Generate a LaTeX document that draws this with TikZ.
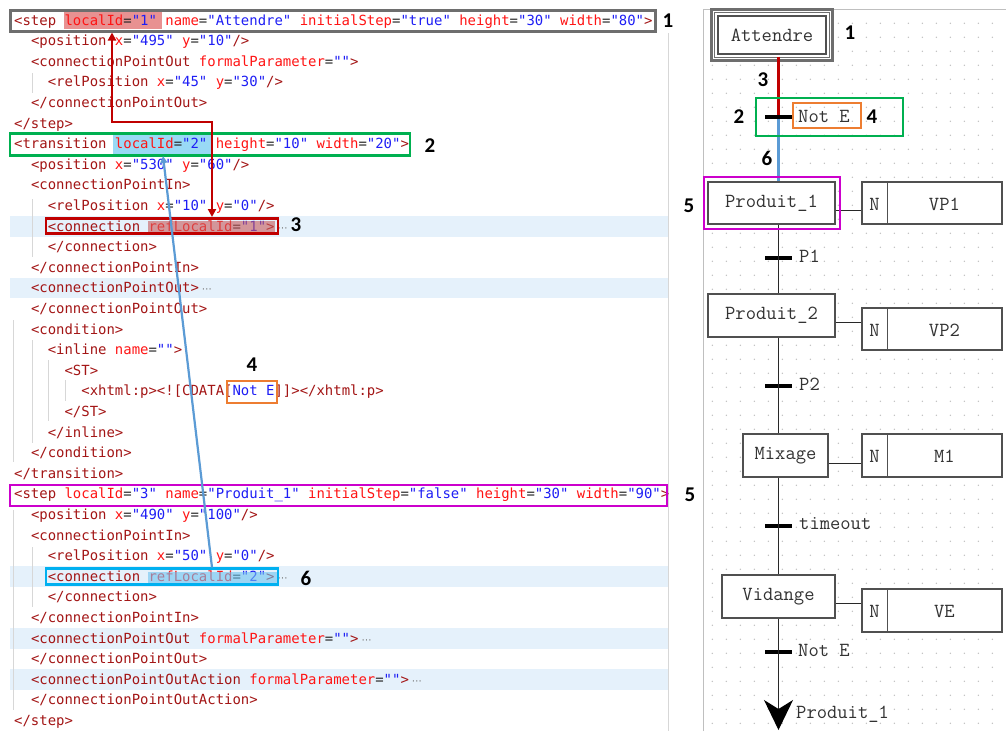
\documentclass[tikz,border=0pt]{standalone}
\usepackage{fontspec}
\setmainfont{Carlito}
\newfontfamily\codefont{DejaVu Sans Mono}
\newfontfamily\dotfont{DejaVu Sans}
\usetikzlibrary{arrows.meta,calc}
\definecolor{tagc}{RGB}{163,21,21}
\definecolor{attc}{RGB}{255,20,20}
\definecolor{valc}{RGB}{30,30,245}
\definecolor{rowc}{RGB}{229,241,251}
\definecolor{guidec}{RGB}{215,215,215}
\definecolor{grayb}{RGB}{110,110,110}
\definecolor{greenb}{RGB}{0,176,80}
\definecolor{redb}{RGB}{192,0,0}
\definecolor{orangeb}{RGB}{237,125,49}
\definecolor{magb}{RGB}{204,0,204}
\definecolor{cyanb}{RGB}{0,176,240}
\definecolor{bluel}{RGB}{91,155,213}
\definecolor{gridc}{RGB}{190,190,190}
\definecolor{sfcline}{RGB}{40,40,40}
\definecolor{sfctxt}{RGB}{50,50,50}
\definecolor{sfcbox}{RGB}{80,80,80}
\newcommand\xTg[1]{\textcolor{tagc}{#1}}
\newcommand\xAt[1]{\textcolor{attc}{#1}}
\newcommand\xVl[1]{\textcolor{valc}{#1}}
\newcommand\xEq{\textcolor{black!85}{=}}
\newcommand\xDots{\hspace{3pt}{\dotfont\fontsize{10}{10}\selectfont\textcolor{black!55}{⋯}}}
\newcommand\sfcfnt{\ttfamily\fontsize{20}{20}\selectfont}
\tikzset{
  codeline/.style={anchor=base west, inner sep=0pt, font=\codefont\fontsize{13.95}{16}\selectfont},
  guide/.style={draw=guidec, line width=0.8pt},
  markbox/.style={draw, line width=2.6pt, inner sep=0pt, fill=none},
  numlab/.style={font=\bfseries\fontsize{21}{22}\selectfont, inner sep=0pt, text=black},
  stepbox/.style={draw=sfcbox, fill=white, line width=1.2pt, inner sep=0pt, text=sfctxt, font=\sfcfnt},
  actbox/.style={draw=sfcbox, fill=white, line width=1.2pt, inner sep=0pt, minimum width=140pt},
  sfctext/.style={inner sep=0pt, text=sfctxt, font=\sfcfnt},
  translab/.style={anchor=west, inner sep=0pt, text=sfctxt, font=\sfcfnt},
  transbar/.style={fill=black, draw=none, minimum width=27pt, minimum height=4pt, inner sep=0pt},
  sfcwire/.style={draw=sfcline, line width=1.2pt},
}
\begin{document}
\begin{tikzpicture}[x=1pt,y=-1pt]
\useasboundingbox (0,0) rectangle (1006,731);
\fill[white] (0,0) rectangle (1006,731);

% ---------- code panel ----------
\foreach \b in {231,292.8,581.2,643,684.2}
  \fill[rowc] (10,\b-15) rectangle (668,\b+5.6);
\draw[guidec, line width=1pt] (668,33) -- (668,731);
\draw[guide] (32,73) -- (32,93);
\draw[guide] (32,199) -- (32,257);
\draw[guide] (13,320) -- (13,462);
\draw[guide] (32,340) -- (32,443);
\draw[guide] (48,360) -- (48,421);
\draw[guide] (65,380) -- (65,401);
\draw[guide] (13,510) -- (13,710);
\draw[guide] (32,547) -- (32,607);

\fill[fill={rgb,255:red,232;green,145;blue,145}] (64,12) rectangle (162,29);
\fill[fill={rgb,255:red,153;green,217;blue,245}] (113,135) rectangle (212,154);

\node[codeline] (l1)  at (14,25)     {\xTg{<step} \xAt{localId}\xEq\xVl{"1"} \xAt{name}\xEq\xVl{"Attendre"} \xAt{initialStep}\xEq\xVl{"true"} \xAt{height}\xEq\xVl{"30"} \xAt{width}\xEq\xVl{"80"}\xTg{>}};
\node[codeline] (l2)  at (30.8,45.6) {\xTg{<position} \xAt{x}\xEq\xVl{"495"} \xAt{y}\xEq\xVl{"10"}\xTg{/>}};
\node[codeline] (l3)  at (30.8,66.2) {\xTg{<connectionPointOut} \xAt{formalParameter}\xEq\xVl{""}\xTg{>}};
\node[codeline] (l4)  at (47.6,86.8) {\xTg{<relPosition} \xAt{x}\xEq\xVl{"45"} \xAt{y}\xEq\xVl{"30"}\xTg{/>}};
\node[codeline] (l5)  at (30.8,107.4) {\xTg{</connectionPointOut>}};
\node[codeline] (l6)  at (14,128)    {\xTg{</step>}};
\node[codeline] (l7)  at (14,148.6)  {\xTg{<transition} \xAt{localId}\xEq\xVl{"2"} \xAt{height}\xEq\xVl{"10"} \xAt{width}\xEq\xVl{"20"}\xTg{>}};
\node[codeline] (l8)  at (30.8,169.2) {\xTg{<position} \xAt{x}\xEq\xVl{"530"} \xAt{y}\xEq\xVl{"60"}\xTg{/>}};
\node[codeline] (l9)  at (30.8,189.8) {\xTg{<connectionPointIn>}};
\node[codeline] (l10) at (47.6,210.4) {\xTg{<relPosition} \xAt{x}\xEq\xVl{"10"} \xAt{y}\xEq\xVl{"0"}\xTg{/>}};
\node[codeline] (l11) at (47.6,231)   {\xTg{<connection} \xAt{refLocalId}\xEq\xVl{"1"}\xTg{>}\xDots};
\node[codeline] (l12) at (47.6,251.6) {\xTg{</connection>}};
\node[codeline] (l13) at (30.8,272.2) {\xTg{</connectionPointIn>}};
\node[codeline] (l14) at (30.8,292.8) {\xTg{<connectionPointOut>}\xDots};
\node[codeline] (l15) at (30.8,313.4) {\xTg{</connectionPointOut>}};
\node[codeline] (l16) at (30.8,334)   {\xTg{<condition>}};
\node[codeline] (l17) at (47.6,354.6) {\xTg{<inline} \xAt{name}\xEq\xVl{""}\xTg{>}};
\node[codeline] (l18) at (64.4,375.2) {\xTg{<ST>}};
\node[codeline] (l19) at (81.2,395.8) {\xTg{<xhtml:p><![CDATA[}\xVl{Not E}\xTg{]]></xhtml:p>}};
\node[codeline] (l20) at (64.4,416.4) {\xTg{</ST>}};
\node[codeline] (l21) at (47.6,437)   {\xTg{</inline>}};
\node[codeline] (l22) at (30.8,457.6) {\xTg{</condition>}};
\node[codeline] (l23) at (14,478.2)   {\xTg{</transition>}};
\node[codeline] (l24) at (14,498.8)   {\xTg{<step} \xAt{localId}\xEq\xVl{"3"} \xAt{name}\xEq\xVl{"Produit\_1"} \xAt{initialStep}\xEq\xVl{"false"} \xAt{height}\xEq\xVl{"30"} \xAt{width}\xEq\xVl{"90"}\xTg{>}};
\node[codeline] (l25) at (30.8,519.4) {\xTg{<position} \xAt{x}\xEq\xVl{"490"} \xAt{y}\xEq\xVl{"100"}\xTg{/>}};
\node[codeline] (l26) at (30.8,540)   {\xTg{<connectionPointIn>}};
\node[codeline] (l27) at (47.6,560.6) {\xTg{<relPosition} \xAt{x}\xEq\xVl{"50"} \xAt{y}\xEq\xVl{"0"}\xTg{/>}};
\node[codeline] (l28) at (47.6,581.2) {\xTg{<connection} \xAt{refLocalId}\xEq\xVl{"2"}\xTg{>}\xDots};
\node[codeline] (l29) at (47.6,601.8) {\xTg{</connection>}};
\node[codeline] (l30) at (30.8,622.4) {\xTg{</connectionPointIn>}};
\node[codeline] (l31) at (30.8,643)   {\xTg{<connectionPointOut} \xAt{formalParameter}\xEq\xVl{""}\xTg{>}\xDots};
\node[codeline] (l32) at (30.8,663.6) {\xTg{</connectionPointOut>}};
\node[codeline] (l33) at (30.8,684.2) {\xTg{<connectionPointOutAction} \xAt{formalParameter}\xEq\xVl{""}\xTg{>}\xDots};
\node[codeline] (l34) at (30.8,704.8) {\xTg{</connectionPointOutAction>}};
\node[codeline] (l35) at (14,725.4)   {\xTg{</step>}};

\fill[fill={rgb,255:red,200;green,90;blue,90}, opacity=0.6] (148,221) rectangle (275,233);
\fill[fill={rgb,255:red,110;green,195;blue,240}, opacity=0.6] (148,572) rectangle (277,584);

\node[markbox, draw=grayb, line width=3pt, minimum width=645pt, minimum height=21pt] (b1) at (332.5,20.5) {};
\node[markbox, draw=greenb, minimum width=400pt, minimum height=22pt] (b2) at (210,144.5) {};
\node[markbox, draw=redb, minimum width=232pt, minimum height=15pt] (b3) at (162,226) {};
\node[markbox, draw=orangeb, minimum width=50pt, minimum height=22pt] (b4) at (252,392) {};
\node[markbox, draw=magb, minimum width=657pt, minimum height=21pt] (b5) at (338.5,495.5) {};
\node[markbox, draw=cyanb, minimum width=232pt, minimum height=16pt] (b6) at (162,576.5) {};

\node[numlab] (n1) at (668,21) {1};
\node[numlab] (n2) at (430,146) {2};
\node[numlab] (n3) at (296,225) {3};
\node[numlab] (n4) at (252,365) {4};
\node[numlab] (n5) at (690,495) {5};
\node[numlab] (n6) at (306,578) {6};

\coordinate (ra) at (112,32.5);
\coordinate (rc) at (212,122);
\coordinate (rb) at (212,217);
\draw[redb, line width=2.6pt, {Triangle[length=8pt,width=8pt]}-{Triangle[length=8pt,width=8pt]}] (ra) |- (rc) -- (rb);
\coordinate (ba) at (163,156);
\coordinate (bb) at (212,567.5);
\draw[bluel, line width=2.2pt, {Triangle[length=7pt,width=7pt]}-] (ba) -- (bb);

% ---------- SFC panel ----------
\draw[gray!50, line width=1pt] (703,731) -- (703,9.5) -- (1006,9.5);
\foreach \i in {0,...,20}
  \foreach \j in {0,...,50}
    \fill[gridc] (712.3+14*\i, 23.3+14*\j) circle (0.75);

\node[transbar] (t1) at (778.5,117) {};
\node[transbar] (t2) at (778.5,258) {};
\node[transbar] (t3) at (778.5,386) {};
\node[transbar] (t4) at (778.5,526) {};
\node[transbar] (t5) at (778.5,652) {};
\coordinate (tend) at (778.5,730);

\draw[sfcwire] (778.5,224) -- (t2.center) -- (778.5,294);
\draw[sfcwire] (778.5,337) -- (t3.center) -- (778.5,434);
\draw[sfcwire] (778.5,477) -- (t4.center) -- (778.5,575);
\draw[sfcwire, -{Stealth[length=30pt,width=29pt,inset=9pt,fill=black,color=black]}] (778.5,618) -- (t5.center) -- (tend);

\node[stepbox, minimum width=108pt, minimum height=38pt] (s1) at (772,35) {Attendre};
\draw[grayb, line width=1.1pt] ($(s1.north west)+(-3,-3)$) rectangle ($(s1.south east)+(3,3)$);
\draw[grayb, line width=3pt] ($(s1.north west)+(-6.3,-6)$) rectangle ($(s1.south east)+(6.3,6)$);
\node[stepbox, minimum width=127pt, minimum height=42pt] (s2) at (771.5,203) {Produit\_1};
\node[stepbox, minimum width=127pt, minimum height=43pt] (s3) at (771.5,315.5) {Produit\_2};
\node[stepbox, minimum width=85pt, minimum height=43pt] (s4) at (785.5,455.5) {Mixage};
\node[stepbox, minimum width=113pt, minimum height=43pt] (s5) at (778.5,596.5) {Vidange};

\node[actbox, minimum height=42pt] (a1) at (932,203) {};
\node[actbox, minimum height=42pt] (a2) at (932,329) {};
\node[actbox, minimum height=43pt] (a3) at (932,455.5) {};
\node[actbox, minimum height=43pt] (a4) at (932,610.5) {};
\foreach \a/\v in {a1/VP1,a2/VP2,a3/M1,a4/VE}{
  \draw[sfcbox, line width=1.2pt] ($(\a.north west)+(26,0)$) -- ($(\a.south west)+(26,0)$);
  \node[sfctext] (\a n) at ($(\a.west)+(13,1)$) {N};
  \node[sfctext] (\a v) at ($(\a.west)+(83,1)$) {\v};
}
\coordinate (k1) at (0,210);
\coordinate (k2) at (0,322);
\coordinate (k3) at (0,463);
\coordinate (k4) at (0,603);
\draw[sfcwire, line width=1pt] (s2.east |- k1) -- (a1.west |- k1);
\draw[sfcwire, line width=1pt] (s3.east |- k2) -- (a2.west |- k2);
\draw[sfcwire, line width=1pt] (s4.east |- k3) -- (a3.west |- k3);
\draw[sfcwire, line width=1pt] (s5.east |- k4) -- (a4.west |- k4);

\draw[redb, line width=2.6pt] (778.5,56.5) -- (t1.center);
\draw[bluel, line width=2.6pt] (t1.center) -- (s2.north -| t1);
\node[transbar] at (t1) {};

\node[translab] (c1) at (798,116) {Not E};
\node[translab] (c2) at (799,256) {P1};
\node[translab] (c3) at (799,384) {P2};
\node[translab] (c4) at (799,524) {timeout};
\node[translab] (c5) at (798,650) {Not E};
\node[translab] (c6) at (796,714) {Produit\_1};

\node[markbox, draw=greenb, minimum width=147pt, minimum height=38pt] (g2) at (829.5,117) {};
\node[markbox, draw=orangeb, minimum width=68pt, minimum height=25pt] (o4) at (827,115.5) {};
\node[markbox, draw=magb, minimum width=136pt, minimum height=52pt] (m5) at (772,203) {};

\node[numlab] (r1) at (850,33) {1};
\node[numlab] (r3) at (763,80) {3};
\node[numlab] (r2) at (739,117) {2};
\node[numlab] (r4) at (872,117) {4};
\node[numlab] (r6) at (767,158) {6};
\node[numlab] (r5) at (689,206) {5};
\end{tikzpicture}
\end{document}
